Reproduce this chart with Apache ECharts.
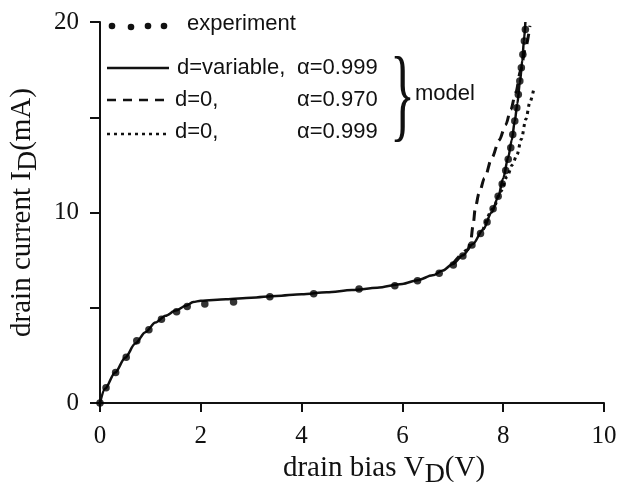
<!DOCTYPE html>
<html>
<head>
<meta charset="utf-8">
<script src="https://cdn.jsdelivr.net/npm/echarts@6/dist/echarts.min.js"></script>
<style>
  html, body { margin: 0; padding: 0; background: #fff; }
  #chart { width: 627px; height: 482px; }
</style>
</head>
<body>
<div id="chart"></div>
<script>
const experiment = [
  [0, 0], [0.12, 0.8], [0.31, 1.6], [0.52, 2.4], [0.73, 3.27], [0.97, 3.85],
  [1.22, 4.4], [1.52, 4.79], [1.73, 5.06], [2.08, 5.2], [2.65, 5.3], [3.37, 5.58],
  [4.24, 5.74], [5.14, 5.99], [5.85, 6.16], [6.3, 6.42], [6.73, 6.81], [7.01, 7.24],
  [7.2, 7.72], [7.38, 8.3], [7.55, 8.9], [7.68, 9.5], [7.8, 10.2], [7.9, 10.85],
  [7.98, 11.5], [8.05, 12.2], [8.1, 12.8], [8.15, 13.4], [8.19, 14.1], [8.23, 14.8],
  [8.27, 15.5], [8.3, 16.2], [8.33, 16.9], [8.36, 17.6], [8.39, 18.3], [8.42, 19.0],
  [8.44, 19.6]
]
// d=variable, alpha=0.999
const modelVariable = [
  [0, 0], [0.1, 0.75], [0.3, 1.6], [0.5, 2.38], [0.7, 3.12], [0.9, 3.72],
  [1.1, 4.22], [1.3, 4.58], [1.5, 4.85], [1.7, 5.1], [1.85, 5.3], [2.0, 5.37],
  [2.5, 5.45], [3.0, 5.53], [3.5, 5.62], [4.0, 5.71], [4.5, 5.81], [5.0, 5.93],
  [5.5, 6.05], [6.0, 6.25], [6.3, 6.45], [6.6, 6.7], [6.8, 6.95], [7.0, 7.3],
  [7.2, 7.75], [7.4, 8.35], [7.6, 9.1], [7.77, 10.0], [7.9, 10.8], [8.0, 11.8],
  [8.1, 12.9], [8.17, 13.8], [8.23, 14.8], [8.28, 15.7], [8.33, 16.8],
  [8.38, 18.0], [8.41, 19.0], [8.44, 20.0]
]
// d=0, alpha=0.970
const modelAlpha970 = [
  [7.0, 7.3], [7.3, 8.05], [7.36, 8.6], [7.4, 9.3], [7.45, 10.3], [7.52, 11.0],
  [7.63, 11.8], [7.78, 12.9], [7.92, 13.8], [8.05, 14.6], [8.15, 15.4],
  [8.25, 16.3], [8.35, 17.5], [8.44, 18.6], [8.53, 19.8]
]
// d=0, alpha=0.999
const modelAlpha999 = [
  [7.6, 9.1], [7.8, 10.2], [7.95, 11.1], [8.08, 11.9], [8.18, 12.5], [8.27, 13.0],
  [8.36, 13.85], [8.45, 14.9], [8.53, 15.8], [8.6, 16.4]
]

const ink = '#111'
const serif = '"Liberation Serif", "DejaVu Serif", serif'
const sans = '"Liberation Sans", Arial, sans-serif'

const chart = echarts.init(document.getElementById('chart'))

function legendText(x, y, text) {
  return {
    type: 'text', x: x, y: y,
    style: { text: text, font: '22px ' + sans, fill: ink, align: 'left', verticalAlign: 'middle' }
  }
}
function legendLine(y, dash) {
  return {
    type: 'line',
    shape: { x1: 107, y1: y, x2: 169, y2: y },
    style: { stroke: ink, lineWidth: 2.5, lineDash: dash }
  }
}

chart.setOption({
  animation: false,
  backgroundColor: '#fff',
  grid: { left: 100, right: 23, top: 22, bottom: 79, outerBoundsMode: 'none' },
  xAxis: {
    type: 'value', min: 0, max: 10, interval: 2,
    name: 'drain bias V{sub|D}(V)',
    nameLocation: 'middle', nameGap: 40,
    nameTextStyle: {
      fontFamily: serif, fontSize: 29, color: ink, padding: [0, 0, 0, 64],
      rich: { sub: { fontFamily: serif, fontSize: 28, color: ink, padding: [12, 0, 0, 0] } }
    },
    axisLine: { lineStyle: { color: ink, width: 2 } },
    axisTick: { inside: false, length: 9, lineStyle: { color: ink, width: 2 } },
    axisLabel: { fontFamily: serif, fontSize: 25, color: ink, margin: 21 },
    splitLine: { show: false }
  },
  yAxis: {
    type: 'value', min: 0, max: 20, interval: 5,
    name: 'drain current I{sub|D}(mA)',
    nameLocation: 'middle', nameGap: 48, nameRotate: 90,
    nameTextStyle: {
      fontFamily: serif, fontSize: 29, color: ink,
      rich: { sub: { fontFamily: serif, fontSize: 28, color: ink, padding: [14, 0, 0, 0] } }
    },
    axisLine: { show: true, lineStyle: { color: ink, width: 2 } },
    axisTick: { show: true, length: 10, lineStyle: { color: ink, width: 2 } },
    axisLabel: {
      fontFamily: serif, fontSize: 25, color: ink, margin: 21,
      formatter: v => (v % 10 === 0 ? String(v) : '')
    },
    splitLine: { show: false }
  },
  series: [
    {
      name: 'd=variable, α=0.999', type: 'line', data: modelVariable,
      smooth: 0.3, smoothMonotone: 'x', symbol: 'none',
      lineStyle: { color: ink, width: 2.5 }
    },
    {
      name: 'd=0, α=0.970', type: 'line', data: modelAlpha970,
      smooth: 0.3, smoothMonotone: 'x', symbol: 'none',
      lineStyle: { color: ink, width: 3, type: [10, 7] }
    },
    {
      name: 'd=0, α=0.999', type: 'line', data: modelAlpha999,
      smooth: 0.3, smoothMonotone: 'x', symbol: 'none',
      lineStyle: { color: ink, width: 3, type: [3, 4] }
    },
    {
      name: 'experiment', type: 'scatter', data: experiment,
      symbol: 'circle', symbolSize: 7.5, itemStyle: { color: '#000' }, z: 5
    }
  ],
  graphic: [
    { type: 'circle', shape: { cx: 112, cy: 26, r: 3.3 }, style: { fill: ink } },
    { type: 'circle', shape: { cx: 131, cy: 27, r: 3.3 }, style: { fill: ink } },
    { type: 'circle', shape: { cx: 148, cy: 26, r: 3.3 }, style: { fill: ink } },
    { type: 'circle', shape: { cx: 164, cy: 26, r: 3.3 }, style: { fill: ink } },
    legendText(187, 24, 'experiment'),
    legendLine(68, null),
    legendText(177, 68, 'd=variable,'),
    legendText(297, 68, 'α=0.999'),
    legendLine(100, [9, 7]),
    legendText(175, 100, 'd=0,'),
    legendText(297, 100, 'α=0.970'),
    legendLine(134, [3, 4]),
    legendText(175, 132, 'd=0,'),
    legendText(297, 132, 'α=0.999'),
    {
      type: 'text', x: 390, y: 101, scaleX: 0.5,
      style: { text: '}', font: '104px ' + serif, fill: ink, align: 'left', verticalAlign: 'middle' }
    },
    legendText(415, 94, 'model')
  ]
})
</script>
</body>
</html>
